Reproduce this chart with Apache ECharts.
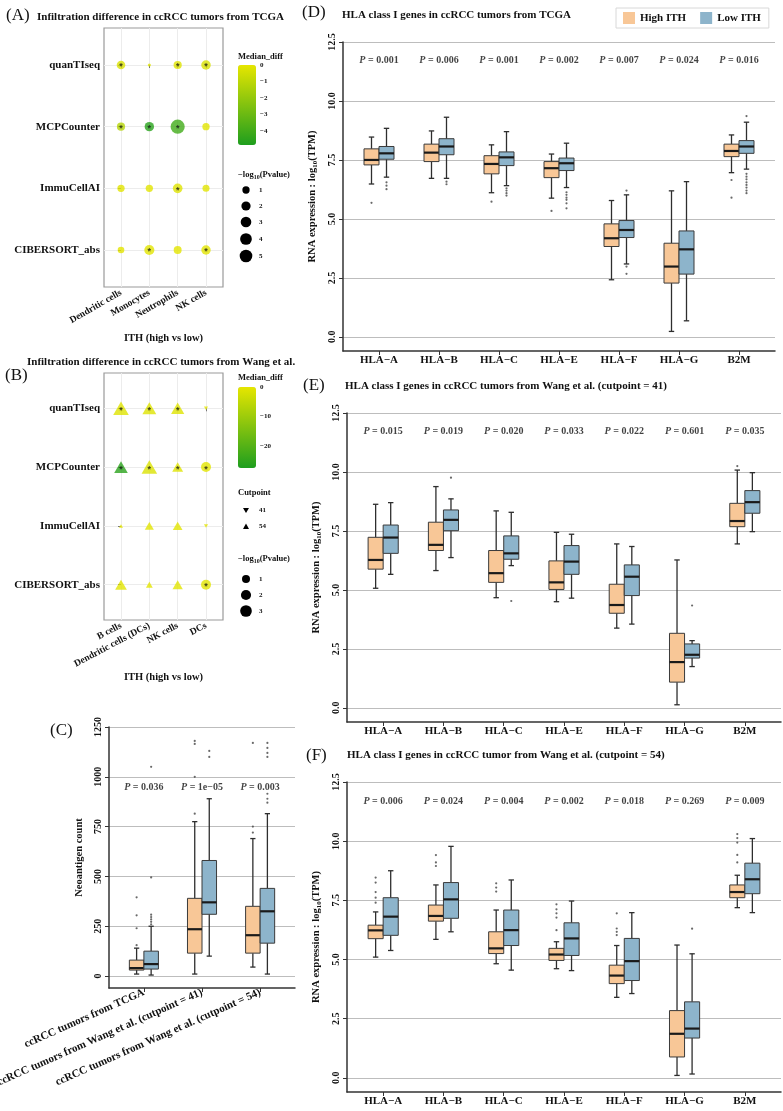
<!DOCTYPE html>
<html><head><meta charset="utf-8">
<script src="https://cdn.jsdelivr.net/npm/echarts@6/dist/echarts.min.js"></script>
<style>html,body{margin:0;padding:0;background:#fff}#c{width:783px;height:1111px}</style>
</head><body><div id="c"></div><script>
// ---------------- DATA ----------------
// Panel A
const aRows = ['quanTIseq', 'MCPCounter', 'ImmuCellAI', 'CIBERSORT_abs'];
const aCols = ['Dendritic cells', 'Monocytes', 'Neutrophils', 'NK cells'];
const aMedianDiff = [[-0.3, -0.2, -0.2, -0.3], [-1.2, -4.6, -4.0, -0.1], [-0.1, -0.1, -0.2, -0.1], [-0.05, -0.1, -0.05, -0.1]];
const aLogP = [[1.6, 0.08, 1.4, 2.2], [1.4, 2.1, 7.0, 1.0], [1.0, 1.0, 2.3, 0.9], [0.75, 2.6, 1.3, 2.1]];
const aSig = [[1, 0, 1, 1], [1, 1, 1, 0], [0, 0, 1, 0], [0, 1, 0, 1]];
const aDiffTicks = [0, -1, -2, -3, -4];
const aSizeTicks = [1, 2, 3, 4, 5];
// Panel B
const bRows = ['quanTIseq', 'MCPCounter', 'ImmuCellAI', 'CIBERSORT_abs'];
const bCols = ['B cells', 'Dendritic cells (DCs)', 'NK cells', 'DCs'];
const bMedianDiff = [[-1, -1, -1, -0.5], [-26, -1.5, -1, -0.5], [-0.3, -0.5, -0.5, -0.3], [-0.5, -0.3, -0.5, -0.5]];
const bLogP = [[2.9, 2.1, 1.8, 0.06], [1.95, 2.9, 1.05, 1.9], [0.06, 0.6, 0.74, 0.06], [1.27, 0.26, 0.87, 1.9]];
const bSig = [[1, 1, 1, 0], [1, 1, 1, 1], [0, 0, 0, 0], [0, 0, 0, 1]];
const bCutpoint = [['54', '54', '54', '41'], ['54', '54', '54', 'both'], ['54', '54', '54', '41'], ['54', '54', '54', 'both']];
const bDiffTicks = [0, -10, -20];
const bSizeTicks = [1, 2, 3];
// Panel C  [lower whisker, Q1, median, Q3, upper whisker]
const cCats = ['ccRCC tumors from TCGA', 'ccRCC tumors from Wang et al. (cutpoint = 41)', 'ccRCC tumors from Wang et al. (cutpoint = 54)'];
const cHigh = [[10, 30, 40, 80, 140], [10, 115, 235, 390, 775], [45, 115, 205, 350, 690]];
const cLow = [[5, 35, 60, 125, 250], [100, 310, 370, 580, 890], [10, 165, 325, 440, 815]];
const cHighOut = [[0, 155], [0, 240], [0, 305], [0, 395], [1, 815], [1, 1000], [1, 1165], [1, 1180], [2, 720], [2, 750], [2, 1170]];
const cLowOut = [[0, 260], [0, 272], [0, 284], [0, 296], [0, 308], [0, 495], [0, 1050], [1, 1100], [1, 1130], [2, 870], [2, 890], [2, 915], [2, 1100], [2, 1120], [2, 1145], [2, 1170]];
const cP = ['0.036', '1e\u221205', '0.003'];
const cTicks = [0, 250, 500, 750, 1000, 1250];
// Panels D/E/F
const genes = ['HLA\u2212A', 'HLA\u2212B', 'HLA\u2212C', 'HLA\u2212E', 'HLA\u2212F', 'HLA\u2212G', 'B2M'];
const hlaTicks = [0, 2.5, 5, 7.5, 10, 12.5];
const dHigh = [[6.48, 7.29, 7.50, 7.97, 8.47], [6.72, 7.43, 7.81, 8.17, 8.73], [6.11, 6.91, 7.33, 7.68, 8.14], [5.88, 6.75, 7.15, 7.43, 7.75], [2.42, 3.83, 4.18, 4.79, 5.78], [0.23, 2.28, 2.98, 3.97, 6.19], [6.96, 7.64, 7.88, 8.17, 8.56]];
const dLow = [[6.77, 7.53, 7.78, 8.07, 8.84], [6.72, 7.72, 8.07, 8.40, 9.31], [6.41, 7.26, 7.61, 7.84, 8.70], [6.33, 7.05, 7.36, 7.58, 8.21], [3.09, 4.21, 4.53, 4.93, 6.02], [0.68, 2.66, 3.71, 4.49, 6.58], [7.11, 7.78, 8.07, 8.32, 9.10]];
const dHighOut = [[0, 5.68], [2, 5.73], [3, 5.34], [6, 6.65], [6, 5.90]];
const dLowOut = [[0, 6.55], [0, 6.41], [0, 6.26], [1, 6.58], [1, 6.47], [2, 6.30], [2, 6.20], [2, 6.09], [2, 5.99], [3, 6.13], [3, 6.02], [3, 5.90], [3, 5.81], [3, 5.66], [3, 5.45], [4, 6.20], [4, 2.98], [4, 2.67], [6, 9.36], [6, 6.91], [6, 6.79], [6, 6.68], [6, 6.55], [6, 6.44], [6, 6.33], [6, 6.20], [6, 6.09]];
const dP = ['0.001', '0.006', '0.001', '0.002', '0.007', '0.024', '0.016'];
const eHigh = [[5.07, 5.88, 6.27, 7.23, 8.63], [5.82, 6.67, 6.91, 7.87, 9.38], [4.67, 5.32, 5.71, 6.67, 8.35], [4.50, 5.02, 5.32, 6.23, 7.44], [3.38, 4.01, 4.36, 5.24, 6.95], [0.13, 1.09, 1.94, 3.16, 6.27], [6.95, 7.68, 7.92, 8.67, 10.08]];
const eLow = [[5.66, 6.55, 7.22, 7.75, 8.70], [6.37, 7.51, 7.97, 8.39, 8.86], [6.03, 6.30, 6.55, 7.29, 8.29], [4.65, 5.66, 6.20, 6.88, 7.36], [3.55, 4.76, 5.56, 6.06, 6.84], [1.75, 2.11, 2.25, 2.71, 2.85], [7.47, 8.25, 8.72, 9.21, 9.97]];
const eHighOut = [[6, 10.25]];
const eLowOut = [[1, 9.76], [2, 4.53], [5, 4.34]];
const eP = ['0.015', '0.019', '0.020', '0.033', '0.022', '0.601', '0.035'];
const fHigh = [[5.10, 5.88, 6.23, 6.45, 7.01], [5.85, 6.62, 6.84, 7.30, 8.15], [4.82, 5.25, 5.47, 6.17, 7.09], [4.61, 4.96, 5.21, 5.47, 5.75], [3.40, 3.98, 4.32, 4.76, 5.59], [0.10, 0.88, 1.86, 2.84, 5.61], [7.19, 7.61, 7.85, 8.15, 8.56]];
const fLow = [[5.38, 6.02, 6.81, 7.61, 8.75], [6.17, 6.74, 7.54, 8.25, 9.78], [4.55, 5.59, 6.24, 7.09, 8.36], [4.53, 5.17, 5.89, 6.55, 7.47], [3.56, 4.11, 4.93, 5.89, 6.98], [0.16, 1.68, 2.08, 3.21, 5.24], [6.98, 7.78, 8.39, 9.07, 10.11]];
const fHighOut = [[0, 8.46], [0, 8.25], [0, 7.85], [0, 7.61], [0, 7.40], [1, 9.41], [1, 9.10], [1, 8.95], [2, 8.22], [2, 8.04], [2, 7.87], [3, 7.33], [3, 7.12], [3, 6.95], [3, 6.77], [3, 6.24], [4, 6.95], [4, 6.31], [4, 6.17], [4, 6.03], [6, 10.30], [6, 10.13], [6, 9.94], [6, 9.42], [6, 9.10]];
const fLowOut = [[5, 6.30]];
const fP = ['0.006', '0.024', '0.004', '0.002', '0.018', '0.269', '0.009'];

// ---------------- STYLE / LAYOUT ----------------
const SERIF = '"Liberation Serif", "Times New Roman", serif';
const HIGH_C = '#F8C797', LOW_C = '#8DB4CB';
const GREEN = '#1E9E1E', YELLOW = '#E6E600';
const A_MIN = -4.85, B_MIN = -27.6;
const sizeA = v => 7.3 * Math.pow(Math.max(v, 0.01), 0.34);
const sizeB = v => 8 * Math.pow(Math.max(v, 0.01), 0.345);

const grids = [], xAxes = [], yAxes = [], series = [], graphics = [], visualMaps = [];
const lblFont = {fontFamily: SERIF, fontWeight: 'bold', color: '#111'};

function dotPanel(rect, rows, cols, rot) {
  const gi = grids.length;
  grids.push(Object.assign({show: true, outerBoundsMode: 'none', borderColor: '#9a9a9a', borderWidth: 1.2, backgroundColor: '#fff'}, rect));
  const cv = cols.map((_, i) => i), rv = rows.map((_, i) => i);
  xAxes.push({type: 'value', gridIndex: gi, min: -0.6, max: cols.length - 0.4,
    axisLine: {show: false},
    axisTick: {show: true, customValues: cv, length: 3, lineStyle: {color: '#777'}},
    axisLabel: Object.assign({customValues: cv, formatter: v => cols[Math.round(v)], rotate: rot, fontSize: 9.5, margin: 5}, lblFont),
    splitLine: {show: true, lineStyle: {color: '#ececec'}},
    name: 'ITH (high vs low)', nameLocation: 'middle', nameGap: 46,
    nameTextStyle: Object.assign({fontSize: 10.5}, lblFont)});
  yAxes.push({type: 'value', gridIndex: gi, min: -0.6, max: rows.length - 0.4, inverse: true,
    axisLine: {show: false},
    axisTick: {show: true, customValues: rv, length: 3, lineStyle: {color: '#777'}},
    axisLabel: Object.assign({customValues: rv, formatter: v => rows[Math.round(v)], fontSize: 11, margin: 4}, lblFont),
    splitLine: {show: true, lineStyle: {color: '#ececec'}}});
  return gi;
}

function boxAxes(rect, cats, yMin, yMax, ticks, fmt, yName, nameGap, xRot, xFont) {
  const gi = grids.length;
  grids.push(Object.assign({show: false, outerBoundsMode: 'none'}, rect));
  const cv = cats.map((_, i) => i);
  xAxes.push({type: 'value', gridIndex: gi, min: -0.6, max: cats.length - 0.4,
    axisLine: {show: true, onZero: false, lineStyle: {color: '#333', width: 1.5}},
    axisTick: {show: true, customValues: cv, length: 4, lineStyle: {color: '#333'}},
    axisLabel: Object.assign({customValues: cv, formatter: v => cats[Math.round(v)], rotate: xRot, fontSize: xFont, margin: 4}, lblFont),
    splitLine: {show: false}});
  yAxes.push({type: 'value', gridIndex: gi, min: yMin, max: yMax,
    axisLine: {show: true, onZero: false, lineStyle: {color: '#333', width: 1.5}},
    axisTick: {show: true, customValues: ticks, length: 4, lineStyle: {color: '#333'}},
    axisLabel: Object.assign({customValues: ticks, formatter: fmt, rotate: 90, fontSize: 10, margin: 6}, lblFont),
    splitLine: {show: true, lineStyle: {color: '#bdbdbd', width: 1}},
    name: yName, nameLocation: 'middle', nameRotate: 90, nameGap: nameGap,
    nameTextStyle: Object.assign({fontSize: 10.5, rich: {sub: {fontSize: 7, fontFamily: SERIF, fontWeight: 'bold', verticalAlign: 'bottom', padding: [6, 0, 0, 0]}}}, lblFont)});
  return gi;
}

function boxSeries(name, gi, stats, off, color) {
  return {type: 'custom', name: name, xAxisIndex: gi, yAxisIndex: gi, itemStyle: {color: color},
    data: stats.map((s, i) => [i].concat(s)),
    encode: {x: 0, y: [1, 2, 3, 4, 5]},
    renderItem: function (params, api) {
      const xc = api.value(0) + off;
      const px = api.coord([xc, api.value(3)])[0];
      const yMin = api.coord([xc, api.value(1)])[1];
      const yQ1 = api.coord([xc, api.value(2)])[1];
      const yMed = api.coord([xc, api.value(3)])[1];
      const yQ3 = api.coord([xc, api.value(4)])[1];
      const yMax = api.coord([xc, api.value(5)])[1];
      const xl = api.coord([xc - 0.125, 0])[0], xr = api.coord([xc + 0.125, 0])[0];
      const cw = (xr - xl) * 0.18;
      const ln = {stroke: '#2e2e2e', lineWidth: 1.3};
      return {type: 'group', children: [
        {type: 'line', shape: {x1: px, y1: yMax, x2: px, y2: yQ3}, style: ln},
        {type: 'line', shape: {x1: px, y1: yQ1, x2: px, y2: yMin}, style: ln},
        {type: 'line', shape: {x1: px - cw, y1: yMax, x2: px + cw, y2: yMax}, style: ln},
        {type: 'line', shape: {x1: px - cw, y1: yMin, x2: px + cw, y2: yMin}, style: ln},
        {type: 'rect', shape: {x: xl, y: yQ3, width: xr - xl, height: yQ1 - yQ3}, style: {fill: color, stroke: '#3a3a3a', lineWidth: 1}},
        {type: 'line', shape: {x1: xl, y1: yMed, x2: xr, y2: yMed}, style: {stroke: '#1a1a1a', lineWidth: 2.2}}
      ]};
    }};
}
function outSeries(gi, out, off) {
  return {type: 'scatter', name: 'out', xAxisIndex: gi, yAxisIndex: gi, symbolSize: 2.2, silent: true,
    itemStyle: {color: '#444'}, data: out.map(o => [o[0] + off, o[1]])};
}
function pSeries(gi, pv, yv) {
  return {type: 'scatter', name: 'p', xAxisIndex: gi, yAxisIndex: gi, symbolSize: 0, silent: true,
    data: pv.map((p, i) => [i, yv]),
    label: Object.assign({show: true, position: 'inside', fontSize: 10, formatter: q => '{i|P} = ' + pv[q.dataIndex],
      rich: {i: {fontStyle: 'italic', fontWeight: 'bold', fontFamily: SERIF, fontSize: 10, color: '#111'}}}, lblFont)};
}
function boxPanel(gi, high, low, hOut, lOut, pv, pY) {
  series.push(boxSeries('High ITH', gi, high, -0.125, HIGH_C));
  series.push(boxSeries('Low ITH', gi, low, 0.125, LOW_C));
  series.push(outSeries(gi, hOut, -0.125));
  series.push(outSeries(gi, lOut, 0.125));
  series.push(pSeries(gi, pv, pY));
}

// ---- Panel A
const gA = dotPanel({left: 104, top: 28, width: 119, height: 259}, aRows, aCols, 30);
const sA = series.length;
series.push({type: 'scatter', xAxisIndex: gA, yAxisIndex: gA,
  data: aRows.flatMap((r, ri) => aCols.map((c, ci) => [ci, ri, aLogP[ri][ci], aMedianDiff[ri][ci], aSig[ri][ci]])),
  symbolSize: v => sizeA(v[2]),
  label: {show: true, position: 'inside', formatter: p => p.value[4] ? '*' : '', color: '#111', fontSize: 9, fontWeight: 'bold', offset: [0, 2]}});
visualMaps.push({type: 'continuous', seriesIndex: sA, dimension: 3, min: A_MIN, max: 0, inRange: {color: [GREEN, YELLOW]},
  left: 238, top: 65, itemWidth: 18, itemHeight: 80, calculable: false, padding: 0, hoverLink: false});

// ---- Panel B
const gB = dotPanel({left: 104, top: 373, width: 119, height: 247}, bRows, bCols, 28);
const sB = series.length;
series.push({type: 'scatter', xAxisIndex: gB, yAxisIndex: gB,
  data: bRows.flatMap((r, ri) => bCols.map((c, ci) => {
    const cp = bCutpoint[ri][ci];
    const d = sizeB(bLogP[ri][ci]);
    return {value: [ci, ri, bLogP[ri][ci], bMedianDiff[ri][ci], bSig[ri][ci]],
      symbol: cp === 'both' ? 'circle' : 'triangle',
      symbolRotate: cp === '41' ? 180 : 0,
      symbolSize: cp === 'both' ? d : [d * 1.35, d * 1.17]};
  })),
  label: {show: true, position: 'inside', formatter: p => p.value[4] ? '*' : '', color: '#111', fontSize: 9, fontWeight: 'bold', offset: [0, 2]}});
visualMaps.push({type: 'continuous', seriesIndex: sB, dimension: 3, min: B_MIN, max: 0, inRange: {color: [GREEN, YELLOW]},
  left: 238, top: 387, itemWidth: 18, itemHeight: 81, calculable: false, padding: 0, hoverLink: false});

// ---- Panel C
const gC = boxAxes({left: 109, top: 727, width: 186, height: 261}, cCats, -60, 1250, cTicks, v => String(v), 'Neoantigen count', 24, 24, 11);
boxPanel(gC, cHigh, cLow, cHighOut, cLowOut, cP, 945);

// ---- Panels D, E, F
const yName = 'RNA expression : log{sub|10}(TPM)';
const gD = boxAxes({left: 343, top: 42, width: 432, height: 309}, genes, -0.6, 12.5, hlaTicks, v => v.toFixed(1), yName, 24, 0, 11);
boxPanel(gD, dHigh, dLow, dHighOut, dLowOut, dP, 11.7);
const gE = boxAxes({left: 347, top: 413, width: 434, height: 309}, genes, -0.6, 12.5, hlaTicks, v => v.toFixed(1), yName, 24, 0, 11);
boxPanel(gE, eHigh, eLow, eHighOut, eLowOut, eP, 11.7);
const gF = boxAxes({left: 347, top: 782, width: 434, height: 310}, genes, -0.6, 12.5, hlaTicks, v => v.toFixed(1), yName, 24, 0, 11);
boxPanel(gF, fHigh, fLow, fHighOut, fLowOut, fP, 11.7);

// ---------------- GRAPHIC TEXT (titles, legends) ----------------
function txt(x, y, text, size, bold, extra) {
  graphics.push({type: 'text', x: x, y: y, silent: true, style: Object.assign({text: text, fill: '#111', fontFamily: SERIF,
    fontSize: size, fontWeight: bold ? 'bold' : 'normal', verticalAlign: 'middle', align: 'left'}, extra || {})});
}
txt(6, 16, '(A)', 17, false);
txt(37, 17, 'Infiltration difference in ccRCC tumors from TCGA', 11, true);
txt(5, 376, '(B)', 17, false);
txt(27, 362, 'Infiltration difference in ccRCC tumors from Wang et al.', 11, true);
txt(50, 731, '(C)', 17, false);
txt(302, 13, '(D)', 17, false);
txt(342, 15, 'HLA class I genes in ccRCC tumors from TCGA', 11, true);
txt(303, 386, '(E)', 17, false);
txt(345, 386, 'HLA class I genes in ccRCC tumors from Wang et al. (cutpoint = 41)', 11, true);
txt(306, 756, '(F)', 17, false);
txt(347, 755, 'HLA class I genes in ccRCC tumor from Wang et al. (cutpoint = 54)', 11, true);

const subRich = {sub: {fontSize: 6, fontFamily: SERIF, fontWeight: 'bold', verticalAlign: 'bottom', padding: [5, 0, 0, 0]}};
function colorbarLegend(top, titleY, h, minV, ticks) {
  txt(238, titleY, 'Median_diff', 8.5, true);
  ticks.forEach(t => {
    const y = top + (0 - t) / (0 - minV) * h;
    graphics.push({type: 'line', silent: true, shape: {x1: 238, y1: y, x2: 241.5, y2: y}, style: {stroke: '#fff', lineWidth: 1}});
    graphics.push({type: 'line', silent: true, shape: {x1: 252.5, y1: y, x2: 256, y2: y}, style: {stroke: '#fff', lineWidth: 1}});
    graphics.push({type: 'text', silent: true, z: 10, x: 260, y: y, style: {text: t === 0 ? '0' : '\u2212' + Math.abs(t), fill: '#111', fontFamily: SERIF, fontSize: 7, fontWeight: 'bold', verticalAlign: 'middle'}});
  });
}
function sizeLegend(titleY, ys, ticks, fn) {
  txt(238, titleY, '\u2212log{sub|10}(Pvalue)', 8.5, true, {rich: subRich});
  ticks.forEach((t, i) => {
    graphics.push({type: 'circle', silent: true, shape: {cx: 246, cy: ys[i], r: fn(t) / 2}, style: {fill: '#000'}});
    txt(259, ys[i], String(t), 7, true);
  });
}
colorbarLegend(65, 57, 80, A_MIN, aDiffTicks);
sizeLegend(175, [190, 206, 222, 239, 256], aSizeTicks, sizeA);
colorbarLegend(387, 378, 81, B_MIN, bDiffTicks);
txt(238, 493, 'Cutpoint', 8.5, true);
graphics.push({type: 'polygon', silent: true, shape: {points: [[243, 508], [249, 508], [246, 513]]}, style: {fill: '#000'}});
txt(259, 510, '41', 7, true);
graphics.push({type: 'polygon', silent: true, shape: {points: [[243, 529], [249, 529], [246, 523.5]]}, style: {fill: '#000'}});
txt(259, 526, '54', 7, true);
sizeLegend(559, [579, 595, 611], bSizeTicks, sizeB);

// ---------------- OPTION ----------------
const chart = echarts.init(document.getElementById('c'));
chart.setOption({
  animation: false,
  backgroundColor: '#fff',
  grid: grids, xAxis: xAxes, yAxis: yAxes, series: series, visualMap: visualMaps,
  legend: {data: [{name: 'High ITH', icon: 'rect'}, {name: 'Low ITH', icon: 'rect'}], left: 616, top: 8,
    padding: [4, 8, 4, 7], itemWidth: 12, itemHeight: 12, itemGap: 14, borderColor: '#d8d8d8', borderWidth: 1,
    backgroundColor: '#fff', textStyle: {fontFamily: SERIF, fontWeight: 'bold', fontSize: 11, color: '#111'}, selectedMode: false},
  graphic: graphics
});
</script></body></html>
